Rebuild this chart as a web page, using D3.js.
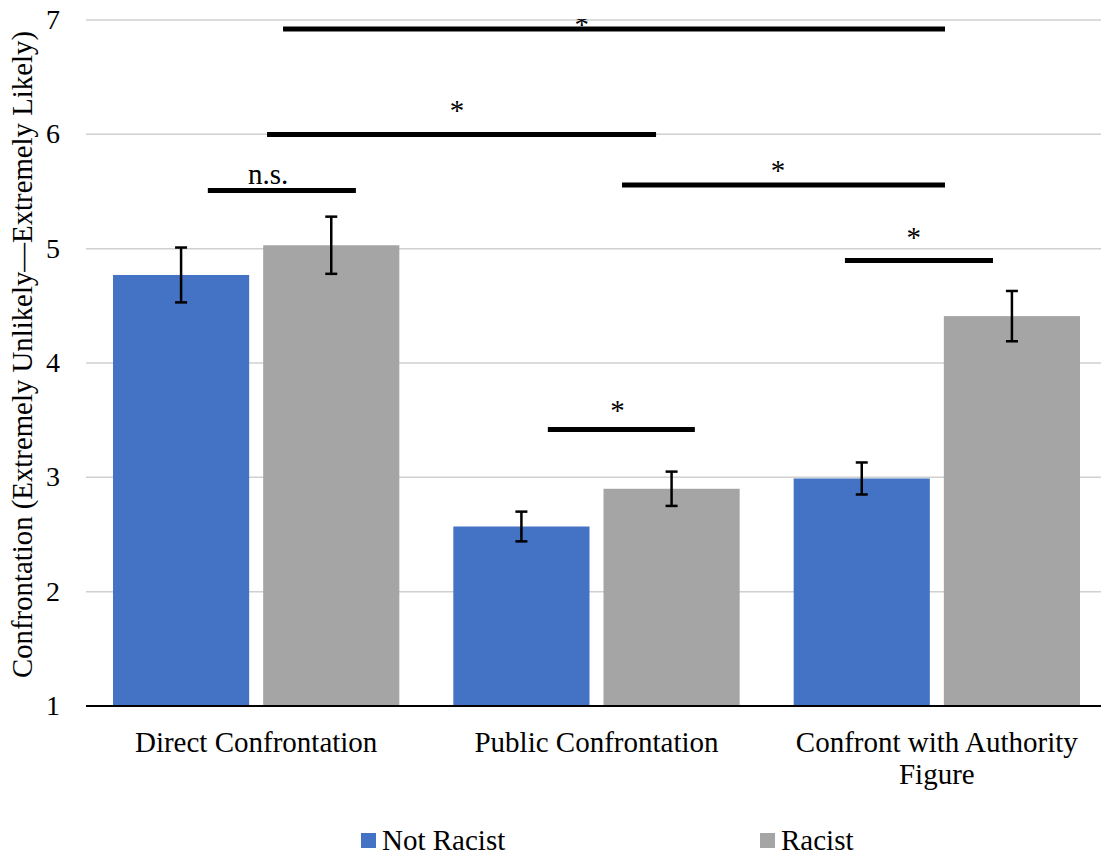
<!DOCTYPE html>
<html><head><meta charset="utf-8">
<script src="https://cdn.jsdelivr.net/npm/d3@7"></script>
<style>body{margin:0;background:#fff}svg{display:block}svg text{font-family:"Liberation Serif","DejaVu Serif","Times New Roman",serif;fill:#000}</style>
</head><body>
<script>
const categories = ["Direct Confrontation", "Public Confrontation", "Confront with Authority Figure"];
const seriesNames = ["Not Racist", "Racist"];
const notRacist = [4.77, 2.57, 2.99];
const racist = [5.03, 2.90, 4.41];
const notRacistErr = [0.24, 0.13, 0.14];
const racistErr = [0.25, 0.15, 0.22];
const yTicks = [1, 2, 3, 4, 5, 6, 7];
// significance brackets: from/to in category-index units, level in y units
const sigFrom = [0.579, 0.532, 0.358, 1.575, 2.230, 1.357];
const sigTo = [2.524, 1.675, 0.793, 2.524, 2.665, 1.789];
const sigLevel = [6.921, 5.999, 5.509, 5.557, 4.897, 3.418];
const sigLabel = ["*", "*", "n.s.", "*", "*", "*"];
const sigLabelPos = [1.457, 1.09, 0.535, 2.033, 2.432, 1.562];
const sigLabelLevel = [6.878, 6.129, 5.566, 5.60, 5.018, 3.505];

(function () {
const W = 1101, H = 857;
const colors = ["#4472C4", "#A5A5A5"];
const svg = d3.select("body").append("svg").attr("width", W).attr("height", H);

const mL = 86, mR = 1107, mT = 20, mB = 706;
const y = d3.scaleLinear().domain([1, 7]).range([mB, mT]);
const x = d3.scaleBand().domain(categories).range([mL, mR]).paddingInner(0).paddingOuter(0);
const xs = d3.scaleBand().domain(seriesNames).range([27, x.bandwidth() - 27]).paddingInner(0.0933);
const xi = d3.scaleLinear().domain([0, 3]).range([mL, mR]);

svg.append("defs").append("clipPath").attr("id", "plotclip")
  .append("rect").attr("x", 0).attr("y", y(7) - 1).attr("width", W).attr("height", H);

// gridlines
svg.append("g").selectAll("line").data(yTicks.filter(t => t > 1)).join("line")
  .attr("x1", mL).attr("x2", W).attr("y1", d => y(d)).attr("y2", d => y(d))
  .attr("stroke", "#d0d0d0").attr("stroke-width", 1.5);

// y tick labels
svg.append("g").selectAll("text").data(yTicks).join("text")
  .attr("x", 60).attr("y", d => y(d) + 9).attr("text-anchor", "end")
  .attr("font-size", 28).text(d => d);

// bars
const data = [];
categories.forEach((c, i) => {
  data.push({c, s: seriesNames[0], v: notRacist[i], e: notRacistErr[i], col: colors[0]});
  data.push({c, s: seriesNames[1], v: racist[i], e: racistErr[i], col: colors[1]});
});
svg.append("g").selectAll("rect").data(data).join("rect")
  .attr("x", d => x(d.c) + xs(d.s)).attr("width", xs.bandwidth())
  .attr("y", d => y(d.v)).attr("height", d => y(1) - y(d.v))
  .attr("fill", d => d.col);

// error bars
const eb = svg.append("g").attr("stroke", "#000").attr("stroke-width", 2.5);
data.forEach(d => {
  const cx = x(d.c) + xs(d.s) + xs.bandwidth() / 2;
  eb.append("line").attr("x1", cx).attr("x2", cx).attr("y1", y(d.v + d.e)).attr("y2", y(d.v - d.e));
  eb.append("line").attr("x1", cx - 6).attr("x2", cx + 6).attr("y1", y(d.v + d.e)).attr("y2", y(d.v + d.e));
  eb.append("line").attr("x1", cx - 6).attr("x2", cx + 6).attr("y1", y(d.v - d.e)).attr("y2", y(d.v - d.e));
});

// x axis line
svg.append("line").attr("x1", mL).attr("x2", W).attr("y1", mB).attr("y2", mB)
  .attr("stroke", "#000").attr("stroke-width", 2);

// category labels
const catLines = [["Direct Confrontation"], ["Public Confrontation"], ["Confront with Authority", "Figure"]];
categories.forEach((c, i) => {
  const cx = x(c) + x.bandwidth() / 2;
  const t = svg.append("text").attr("x", cx).attr("y", 752)
    .attr("text-anchor", "middle").attr("font-size", 29);
  catLines[i].forEach((l, j) => t.append("tspan").attr("x", cx).attr("dy", j ? 32 : 0).text(l));
});

// y axis title
svg.append("text").attr("transform", `translate(32,${(18 + 691) / 2}) rotate(-90)`)
  .attr("text-anchor", "middle").attr("font-size", 28.8)
  .text("Confrontation (Extremely Unlikely\u2014Extremely Likely)");

// significance bars
const sg = svg.append("g");
sigLevel.forEach((lv, i) => {
  sg.append("line").attr("x1", xi(sigFrom[i])).attr("x2", xi(sigTo[i]))
    .attr("y1", y(lv)).attr("y2", y(lv)).attr("stroke", "#000").attr("stroke-width", 5);
});
const lg = svg.append("g").attr("clip-path", "url(#plotclip)");
sigLabel.forEach((lab, i) => {
  lg.append("text").attr("x", xi(sigLabelPos[i])).attr("y", y(sigLabelLevel[i]))
    .attr("text-anchor", "middle").attr("font-size", 29).text(lab);
});

// legend
const legX = [361, 760];
seriesNames.forEach((s, i) => {
  svg.append("rect").attr("x", legX[i]).attr("y", 833).attr("width", 15).attr("height", 15).attr("fill", colors[i]);
  svg.append("text").attr("x", legX[i] + 21).attr("y", 850).attr("font-size", 29).text(s);
});
})();
</script>
</body></html>
